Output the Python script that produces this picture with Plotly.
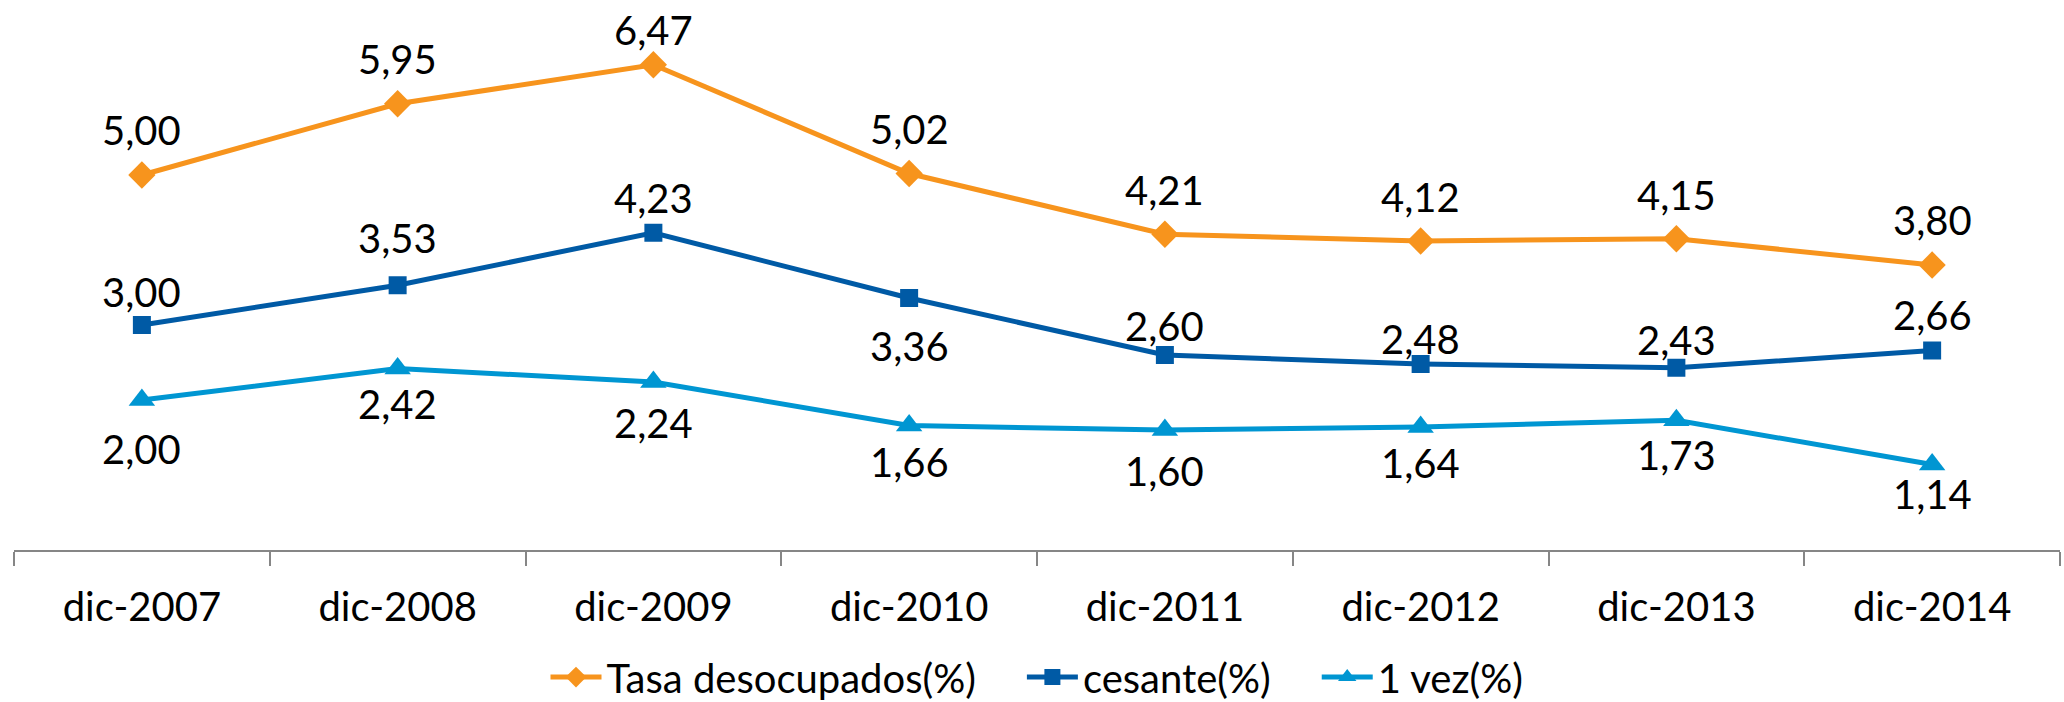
import plotly.graph_objects as go

categories = ["dic-2007", "dic-2008", "dic-2009", "dic-2010", "dic-2011", "dic-2012", "dic-2013", "dic-2014"]
tasa = [5.00, 5.95, 6.47, 5.02, 4.21, 4.12, 4.15, 3.80]
cesante = [3.00, 3.53, 4.23, 3.36, 2.60, 2.48, 2.43, 2.66]
una_vez = [2.00, 2.42, 2.24, 1.66, 1.60, 1.64, 1.73, 1.14]

# label offsets in pixels (positive = above the marker, negative = below)
tasa_off = [45, 45, 35, 45, 44, 44, 44, 45]
cesante_off = [33, 47, 35, -48, 29, 25, 28, 36]
vez_off = [-49, -35, -41, -36, -41, -36, -35, -29]

FONT = "Lato, sans-serif"
FS = 40
GAP = "\u00a0" * 4

series = [
    ("Tasa desocupados(%)" + GAP, tasa, tasa_off, "#F7941D", "diamond", 21),
    ("cesante(%)" + GAP, cesante, cesante_off, "#005AA5", "square", 18),
    ("1 vez(%)", una_vez, vez_off, "#0096D2", "triangle-up", 23),
]

fig = go.Figure()
annotations = []
for name, vals, offs, color, sym, msize in series:
    fig.add_trace(go.Scatter(
        x=categories, y=vals, name=name, mode="lines+markers",
        line=dict(color=color, width=5),
        marker=dict(symbol=sym, size=msize, color=color),
        cliponaxis=False, hoverinfo="skip"))
    for c, v, o in zip(categories, vals, offs):
        annotations.append(dict(
            x=c, y=v, xref="x", yref="y", text=f"{v:.2f}".replace(".", ","),
            showarrow=False, yshift=o, xanchor="center", yanchor="middle",
            font=dict(family=FONT, size=FS, color="black")))

fig.update_layout(
    width=2064, height=702,
    paper_bgcolor="white", plot_bgcolor="white",
    margin=dict(l=14, r=4, t=25, b=152, autoexpand=False),
    font=dict(family=FONT, size=FS, color="black"),
    showlegend=True,
    annotations=annotations,
    legend=dict(orientation="h", x=0.5, xanchor="center", y=-0.242, yanchor="middle",
                font=dict(family=FONT, size=FS, color="black"),
                itemwidth=51, tracegroupgap=0),
    xaxis=dict(type="category", showgrid=False, showline=True, linecolor="#868686", linewidth=2,
               ticks="outside", tickson="boundaries", ticklen=14, tickcolor="#868686", tickwidth=2,
               ticklabelstandoff=21,
               tickfont=dict(family=FONT, size=FS, color="black"), zeroline=False,
               range=[-0.5, 7.5]),
    yaxis=dict(range=[0, 7], visible=False, showgrid=False, zeroline=False),
)

fig.write_html("out.html", config={"displayModeBar": False},
               post_script="document.body.style.margin='0';document.body.style.padding='0';")
